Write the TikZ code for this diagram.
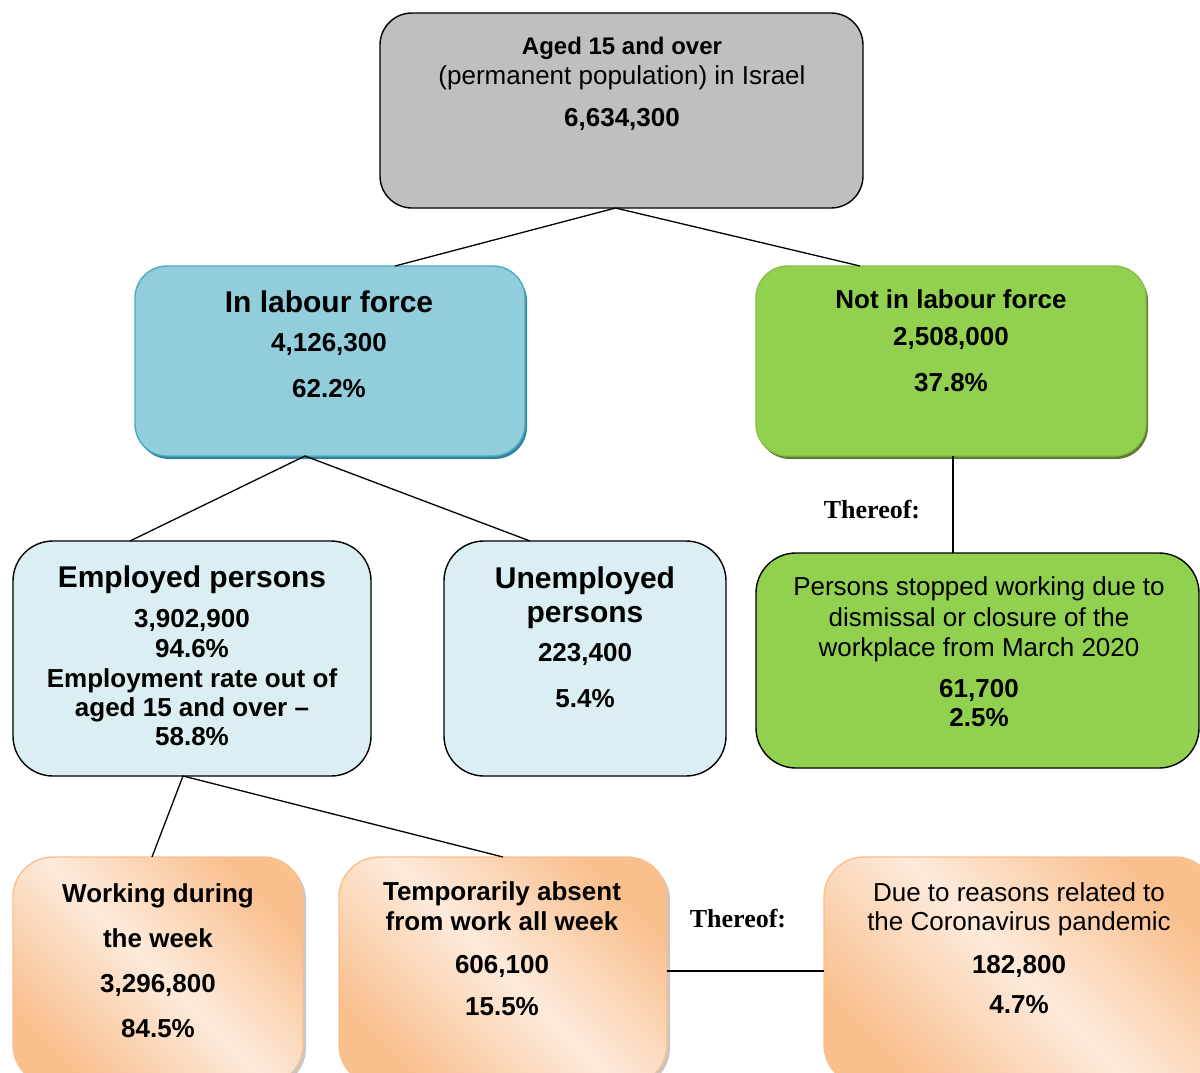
\documentclass[tikz,border=0pt]{standalone}
\usepackage{fontspec}
\setmainfont{Liberation Sans}
\newfontfamily\timesfont{Liberation Serif}
\usetikzlibrary{calc,positioning}

\definecolor{grayBox}{HTML}{BFBFBF}
\definecolor{blueBox}{HTML}{92CDDC}
\definecolor{blueEdge}{HTML}{4BACC6}
\definecolor{blueShadow}{HTML}{31849B}
\definecolor{greenBox}{HTML}{92D050}
\definecolor{greenEdge}{HTML}{86C046}
\definecolor{greenShadow}{HTML}{5E7A2E}
\definecolor{paleBox}{HTML}{DAEEF3}
\definecolor{orangeDark}{HTML}{F9BF8D}
\definecolor{orangeLight}{HTML}{FDEADB}

\begin{document}
\begin{tikzpicture}[x=1pt,y=-1pt]
    \tikzset{Box/.style = {rectangle, rounded corners=32pt, line width=1.4pt,
        inner sep=0pt, outer sep=0pt},
      PlainBox/.style = {Box, draw=black},
      BlueBox/.style  = {Box, draw=blueEdge, fill=blueBox,
        preaction={fill=blueShadow, transform canvas={shift={(2,3)}}}},
      GreenBox/.style = {Box, draw=greenEdge, fill=greenBox,
        preaction={fill=greenShadow, transform canvas={shift={(2,3)}}}},
      OrangeBox/.style = {Box, rounded corners=40pt, draw=orangeDark,
        top color=orangeDark, bottom color=orangeDark, middle color=orangeLight,
        shading angle=-45,
        preaction={fill=black!22, transform canvas={shift={(3,3)}}}},
      Label/.style = {align=center, anchor=base, inner sep=0pt,
        font=\fontsize{26}{30}\selectfont},
      Thereof/.style = {anchor=base, inner sep=0pt,
        font=\timesfont\bfseries\fontsize{26}{30}\selectfont},
      Link/.style = {line width=1.3pt}}

    \clip (0,0) rectangle (1200,1073);
    \fill[white] (0,0) rectangle (1200,1073);

    % boxes
    \node[PlainBox, fill=grayBox, minimum width=483pt, minimum height=195pt] (aged) at (621.5,110.5) {};
    \node[BlueBox, minimum width=390pt, minimum height=190pt] (inlf) at (330,361) {};
    \node[GreenBox, minimum width=390pt, minimum height=190pt] (notlf) at (951,361) {};
    \node[PlainBox, fill=paleBox, rounded corners=40pt, minimum width=358pt, minimum height=235pt] (employed) at (192,658.5) {};
    \node[PlainBox, fill=paleBox, rounded corners=40pt, minimum width=282pt, minimum height=235pt] (unemployed) at (585,658.5) {};
    \node[PlainBox, fill=greenBox, rounded corners=40pt, minimum width=443pt, minimum height=215pt] (stopped) at (977.5,660.5) {};
    \node[OrangeBox, minimum width=290pt, minimum height=228pt] (working) at (158,971) {};
    \node[OrangeBox, minimum width=328pt, minimum height=228pt] (absent) at (503,971) {};
    \node[OrangeBox, minimum width=391pt, minimum height=228pt] (corona) at (1019.5,971) {};

    % texts (placed by the baseline of their last line)
    \node[Label] (aged-txt) at (622,126) {\textbf{\fontsize{24}{30}\selectfont Aged 15 and over}\\
      (permanent population) in Israel\\[12pt]\textbf{6,634,300}};
    \node[Label, font=\bfseries\fontsize{26}{30}\selectfont] (inlf-txt) at (329,397)
      {{\fontsize{30}{34}\selectfont In labour force}\\[9pt]4,126,300\\[16pt]62.2\%};
    \node[Label, font=\bfseries\fontsize{26}{30}\selectfont] (notlf-txt) at (951,391)
      {Not in labour force\\[7pt]2,508,000\\[16pt]37.8\%};
    \node[Label, font=\bfseries\fontsize{26}{30}\selectfont] (employed-txt) at (192,745)
      {{\fontsize{30}{34}\selectfont Employed persons}\\[10pt]3,902,900\\94.6\%\\
      Employment rate out of\\[-1pt]aged 15 and over --\\[-1pt]58.8\%};
    \node[Label, font=\bfseries\fontsize{26}{30}\selectfont] (unemployed-txt) at (585,707)
      {{\fontsize{30}{34}\selectfont Unemployed}\\[4pt]{\fontsize{30}{34}\selectfont persons}\\[9pt]223,400\\[16pt]5.4\%};
    \node[Label] (stopped-txt) at (979,726)
      {Persons stopped working due to\\[1pt]dismissal or closure of the\\
      workplace from March 2020\\[11pt]\textbf{61,700}\\[-1pt]\textbf{2.5\%}};
    \node[Label, font=\bfseries\fontsize{26}{30}\selectfont] (working-txt) at (158,1037)
      {Working during\\[15pt]the week\\[15pt]3,296,800\\[15pt]84.5\%};
    \node[Label, font=\bfseries\fontsize{26}{30}\selectfont] (absent-txt) at (502,1015)
      {Temporarily absent\\from work all week\\[13pt]606,100\\[12pt]15.5\%};
    \node[Label] (corona-txt) at (1019,1013)
      {Due to reasons related to\\[-1pt]the Coronavirus pandemic\\[13pt]\textbf{182,800}\\[10pt]\textbf{4.7\%}};

    \node[Thereof] (thereof-a) at (872,518) {Thereof:};
    \node[Thereof] (thereof-b) at (738,927) {Thereof:};

    % connectors
    \draw[Link] ($(aged.south)+(-6,0)$) -- ($(inlf.north)+(65,0)$);
    \draw[Link] ($(aged.south)+(-6,0)$) -- ($(notlf.north)+(-91,0)$);
    \draw[Link] ($(inlf.south)+(-25,0)$) -- ($(employed.north)+(-62,0)$);
    \draw[Link] ($(inlf.south)+(-25,0)$) -- ($(unemployed.north)+(-55,0)$);
    \draw[Link] ($(notlf.south)+(2,0)$) -- ($(notlf.south |- stopped.north)+(2,0)$);
    \draw[Link] ($(employed.south)+(-9,0)$) -- ($(working.north)+(-6,0)$);
    \draw[Link] ($(employed.south)+(-9,0)$) -- (absent.north);
    \draw[Link] (absent.east) -- (absent.east -| corona.west);
\end{tikzpicture}
\end{document}
